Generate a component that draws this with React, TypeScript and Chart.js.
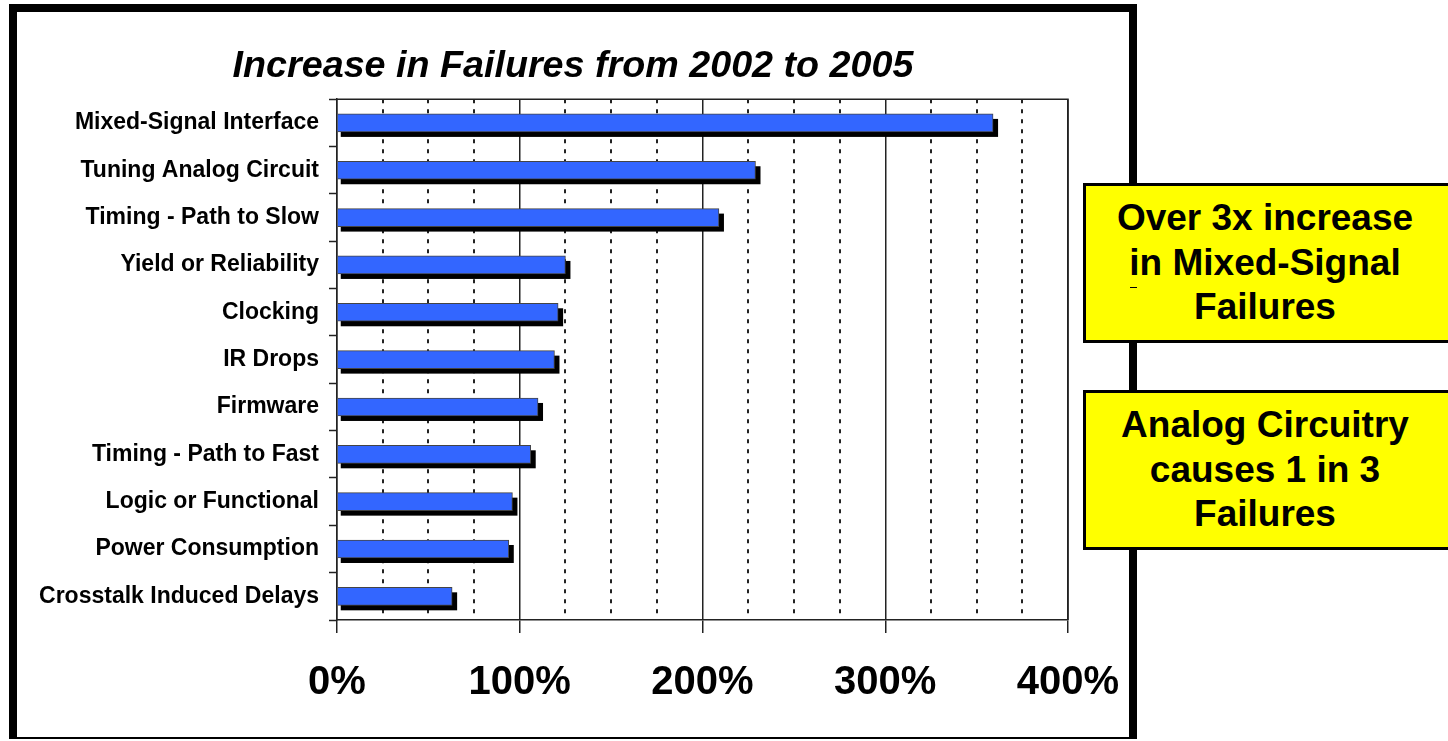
import React, { useEffect, useRef } from 'react';
import { Chart, registerables } from 'chart.js';

Chart.register(...registerables);

const categories = [
  'Mixed-Signal Interface',
  'Tuning Analog Circuit',
  'Timing - Path to Slow',
  'Yield or Reliability',
  'Clocking',
  'IR Drops',
  'Firmware',
  'Timing - Path to Fast',
  'Logic or Functional',
  'Power Consumption',
  'Crosstalk Induced Delays',
];

const increasePct = [359, 229, 209, 125, 121, 119, 110, 106, 96, 94, 63];

const xMajorTicks = [0, 100, 200, 300, 400];
const xMin = 0;
const xMax = 400;
const xStep = 25;

const titleText = 'Increase in Failures from 2002 to 2005';
const callout1 = ['Over 3x increase', 'in Mixed-Signal', 'Failures'];
const callout2 = ['Analog Circuitry', 'causes 1 in 3', 'Failures'];

const FONT = '"Liberation Sans", Arial, Helvetica, sans-serif';

const isMajor = (v: number) => xMajorTicks.includes(v);

// Draws a hard black drop shadow behind every bar, using the bar elements
// that Chart.js has laid out.
const shadowPlugin = {
  id: 'barShadow',
  beforeDatasetsDraw(chart: any) {
    const ctx = chart.ctx;
    const meta = chart.getDatasetMeta(0);
    ctx.save();
    ctx.fillStyle = '#000000';
    meta.data.forEach((el: any) => {
      const { x, y, base, height } = el.getProps(['x', 'y', 'base', 'height'], true);
      const left = base + 3;
      const right = x + 5;
      const top = y - height / 2 + 5;
      ctx.fillRect(left, top, right - left, height);
    });
    ctx.restore();
  },
};

const plotFramePlugin = {
  id: 'plotFrame',
  beforeDatasetsDraw(chart: any) {
    const { ctx, chartArea } = chart;
    ctx.save();
    ctx.strokeStyle = '#222';
    ctx.lineWidth = 1.5;
    ctx.setLineDash([]);
    ctx.beginPath();
    ctx.moveTo(chartArea.left, chartArea.top);
    ctx.lineTo(chartArea.right, chartArea.top);
    ctx.lineTo(chartArea.right, chartArea.bottom);
    ctx.stroke();
    ctx.restore();
  },
};

const calloutStyle = (top: number, height: number): React.CSSProperties => ({
  position: 'absolute',
  left: 1083,
  top,
  width: 1448 - 1083,
  height,
  boxSizing: 'border-box',
  border: '3px solid #000',
  borderRight: 'none',
  background: '#ffff00',
  display: 'flex',
  flexDirection: 'column',
  alignItems: 'center',
  justifyContent: 'center',
  paddingRight: 4,
  fontFamily: FONT,
  fontWeight: 'bold',
  fontSize: 37,
  lineHeight: '44.5px',
  color: '#000',
  textAlign: 'center',
});

export default function App() {
  const canvasRef = useRef<HTMLCanvasElement | null>(null);

  useEffect(() => {
    document.body.style.overflow = 'hidden';
    const canvas = canvasRef.current;
    if (!canvas) return;
    const chart = new Chart(canvas, {
      type: 'bar',
      data: {
        labels: categories,
        datasets: [
          {
            data: increasePct,
            backgroundColor: '#3366ff',
            borderColor: '#444444',
            borderWidth: 1,
            barThickness: 18,
          },
        ],
      },
      options: {
        indexAxis: 'y',
        responsive: false,
        animation: false,
        devicePixelRatio: 1,
        layout: { padding: 0 },
        plugins: {
          legend: { display: false },
          tooltip: { enabled: false },
          title: {
            display: true,
            text: titleText,
            color: '#000',
            font: { family: FONT, size: 37.7, weight: 'bold', style: 'italic' },
            padding: { top: 32, bottom: 10 },
          },
        },
        scales: {
          x: {
            type: 'linear',
            position: 'bottom',
            min: xMin,
            max: xMax,
            ticks: {
              stepSize: xStep,
              autoSkip: false,
              maxRotation: 0,
              padding: 26,
              color: '#000',
              font: { family: FONT, size: 40, weight: 'bold' },
              callback: (v: any) => (isMajor(Number(v)) ? `${v}%` : ''),
            },
            grid: {
              color: '#222',
              lineWidth: (c: any) => (c.tick && !isMajor(c.tick.value) ? 2 : 1.5),
              drawTicks: true,
              tickLength: 13,
              tickWidth: 1.5,
              tickColor: (c: any) => (c.tick && isMajor(c.tick.value) ? '#222' : 'rgba(0,0,0,0)'),
            },
            border: {
              display: true,
              color: '#222',
              width: 1.5,
              dash: (c: any) => (c.tick && !isMajor(c.tick.value) ? [4, 6] : []),
            },
            afterFit: (s: any) => {
              s.height = 118;
              s.paddingRight = 61;
              s.paddingLeft = 0;
            },
          },
          y: {
            type: 'category',
            offset: true,
            ticks: {
              padding: 10,
              autoSkip: false,
              color: '#000',
              font: { family: FONT, size: 23, weight: 'bold' },
            },
            grid: {
              offset: true,
              drawOnChartArea: false,
              drawTicks: true,
              tickLength: 8,
              color: '#222',
              tickWidth: 1.5,
            },
            border: { display: true, color: '#222', width: 1.5 },
            afterFit: (s: any) => {
              s.width = 320;
            },
          },
        },
      } as any,
      plugins: [shadowPlugin, plotFramePlugin],
    });
    return () => chart.destroy();
  }, []);

  return (
    <div>
      <div
        style={{
          position: 'absolute',
          left: 9,
          top: 4,
          width: 1128,
          height: 735,
          boxSizing: 'border-box',
          border: '8px solid #000',
          borderBottom: '2px solid #000',
          background: '#fff',
        }}
      />
      <canvas
        ref={canvasRef}
        width={1112}
        height={726}
        style={{ position: 'absolute', left: 17, top: 12, width: 1112, height: 726 }}
      />
      <div style={calloutStyle(183, 160)}>
        {callout1.map((t) => (
          <div key={t}>{t}</div>
        ))}
      </div>
      <div style={{ position: 'absolute', left: 1130, top: 287, width: 7, height: 1, background: '#000' }} />
      <div style={calloutStyle(390, 160)}>
        {callout2.map((t) => (
          <div key={t}>{t}</div>
        ))}
      </div>
    </div>
  );
}
